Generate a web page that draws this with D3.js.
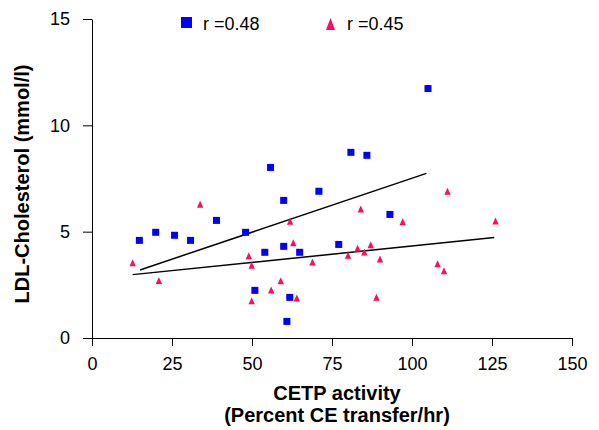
<!DOCTYPE html>
<html>
<head>
<meta charset="utf-8">
<script src="https://cdn.jsdelivr.net/npm/d3@7"></script>
<style>
  body { margin: 0; background: #fff; }
  svg { font-family: "Liberation Sans", Arial, sans-serif; }
  .axis text { font-size: 18px; fill: #000; }
  .axis path, .axis line { stroke: #000; stroke-width: 1; }
  .title { font-size: 20px; font-weight: bold; fill: #000; }
</style>
</head>
<body>
<script>
// blue squares (r = 0.48)
var blueX = [14.8, 19.9, 25.8, 30.8, 38.9, 48.0, 50.9, 54.0, 55.8, 59.9, 59.9, 60.9, 61.8, 64.9, 70.9, 77.1, 80.9, 85.9, 93.1, 105.0];
var blueY = [4.59, 4.97, 4.83, 4.59, 5.53, 4.97, 2.24, 4.03, 8.02, 6.47, 4.31, 0.78, 1.91, 4.03, 6.90, 4.40, 8.73, 8.59, 5.81, 11.73];

// pink triangles (r = 0.45)
var pinkX = [12.7, 20.9, 33.8, 49.0, 49.9, 49.9, 56.0, 59.0, 61.9, 62.9, 64.0, 68.9, 80.0, 83.0, 84.0, 85.1, 87.1, 88.9, 90.0, 97.1, 108.0, 110.0, 111.1, 126.1];
var pinkY = [3.49, 2.66, 6.24, 3.82, 3.37, 1.71, 2.21, 2.65, 5.44, 4.43, 1.83, 3.53, 3.84, 4.17, 6.02, 4.00, 4.34, 1.87, 3.67, 5.42, 3.45, 3.12, 6.85, 5.45];

// fitted lines, endpoints
var blueFitX = [15.0, 104.5];
var blueFitY = [3.2, 7.74];
var pinkFitX = [12.7, 125.7];
var pinkFitY = [2.98, 4.72];

var xTicks = [0, 25, 50, 75, 100, 125, 150];
var yTicks = [0, 5, 10, 15];
var legendLabels = ['r =0.48', 'r =0.45'];

var blue = '#0000ff', pink = '#ff0a64';

var width = 599, height = 430;
var margin = { top: 19, right: 27, bottom: 92, left: 92 };

var svg = d3.select('body').append('svg')
  .attr('width', width)
  .attr('height', height);

var w = width - margin.left - margin.right,
  h = height - margin.top - margin.bottom;

var g = svg.append('g')
  .attr('transform', `translate(${margin.left},${margin.top})`);

var x = d3.scaleLinear().domain([0, 150]).range([0, w]);
var y = d3.scaleLinear().domain([0, 15]).range([h, 0]);

// x axis
g.append('g')
  .attr('class', 'axis')
  .attr('transform', `translate(0,${h})`)
  .call(d3.axisBottom(x).tickValues(xTicks).tickSize(8).tickSizeOuter(0).tickPadding(11))
  .call(a => a.select('.domain').attr('d', `M-9,0.5H${w + 0.5}`));

// y axis
g.append('g')
  .attr('class', 'axis')
  .call(d3.axisLeft(y).tickValues(yTicks).tickSize(9).tickSizeOuter(0).tickPadding(13));

// fit lines
var line = d3.line().x(d => x(d[0])).y(d => y(d[1]));
[[blueFitX, blueFitY], [pinkFitX, pinkFitY]].forEach(function(f) {
  g.append('path')
    .attr('d', line(d3.zip(f[0], f[1])))
    .attr('fill', 'none')
    .attr('stroke', '#000')
    .attr('stroke-width', 1.5);
});

// points
g.selectAll('rect.blue')
  .data(d3.zip(blueX, blueY))
  .enter().append('rect')
  .attr('class', 'blue')
  .attr('x', d => x(d[0]) - 3.5)
  .attr('y', d => y(d[1]) - 3.5)
  .attr('width', 7)
  .attr('height', 7)
  .attr('fill', blue);

var tri = 'M0,-4.5L3.2,2.5L-3.2,2.5Z';
g.selectAll('path.pink')
  .data(d3.zip(pinkX, pinkY))
  .enter().append('path')
  .attr('class', 'pink')
  .attr('d', tri)
  .attr('transform', d => `translate(${x(d[0])},${y(d[1])})`)
  .attr('fill', pink);

// legend
svg.append('rect')
  .attr('x', 181).attr('y', 17)
  .attr('width', 11).attr('height', 11)
  .attr('fill', blue);
svg.append('text')
  .attr('x', 203).attr('y', 30)
  .style('font-size', '18px')
  .text(legendLabels[0]);

svg.append('path')
  .attr('d', 'M330.5,18L335,30L326,30Z')
  .attr('fill', pink);
svg.append('text')
  .attr('x', 347).attr('y', 30)
  .style('font-size', '18px')
  .text(legendLabels[1]);

// axis titles
svg.append('text')
  .attr('class', 'title')
  .attr('x', 337)
  .attr('y', 400)
  .attr('text-anchor', 'middle')
  .text('CETP activity');
svg.append('text')
  .attr('class', 'title')
  .attr('x', 337)
  .attr('y', 422)
  .attr('text-anchor', 'middle')
  .text('(Percent CE transfer/hr)');

svg.append('text')
  .attr('class', 'title')
  .attr('transform', 'translate(29,184) rotate(-90)')
  .attr('text-anchor', 'middle')
  .text('LDL-Cholesterol (mmol/l)');
</script>
</body>
</html>
